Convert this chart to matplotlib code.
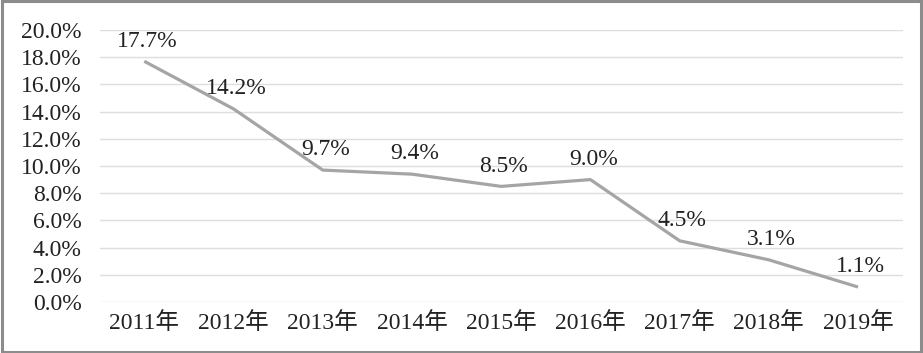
import matplotlib
matplotlib.use( 'Agg' )
import matplotlib.pyplot as plt
from matplotlib.patches import Rectangle
from matplotlib.ticker import FuncFormatter

plt.rcParams[ 'font.family' ] = [ 'Liberation Serif', 'Noto Sans CJK SC' ]

years  = [ '2011年', '2012年', '2013年', '2014年', '2015年', '2016年', '2017年', '2018年', '2019年' ]
values = [ 17.7, 14.2, 9.7, 9.4, 8.5, 9.0, 4.5, 3.1, 1.1 ]
yticks = [ 0, 2, 4, 6, 8, 10, 12, 14, 16, 18, 20 ]

fig = plt.figure( figsize = ( 9.23, 3.53 ), dpi = 100 )
ax = fig.add_axes( [ 0.108, 0.1445, 0.870, 0.7705 ] )

xs = range( len( years ) )
ax.plot( xs, values, color = '#A5A5A5', linewidth = 2.3, solid_capstyle = 'butt', zorder = 3 )

# データラベル
for x, v in zip( xs, values ):
    ax.annotate( f'{v:.1f}%', ( x, v ), xytext = ( 2, 7 ), textcoords = 'offset points',
                 ha = 'center', va = 'bottom', fontsize = 17, color = '#222222' )

ax.set_xlim( -0.5, len( years ) - 0.5 )
ax.set_ylim( 0, 20 )
ax.set_yticks( yticks )
ax.yaxis.set_major_formatter( FuncFormatter( lambda v, _: f'{v:.1f}%' ) )
ax.set_xticks( list( xs ) )
ax.set_xticklabels( years )
ax.tick_params( axis = 'both', length = 0, labelsize = 17, labelcolor = '#222222' )
ax.tick_params( axis = 'x', pad = 7 )
ax.tick_params( axis = 'y', pad = 13 )
ax.grid( axis = 'y', color = '#DEDEDE', linewidth = 1.0 )
ax.set_axisbelow( True )
for s in ax.spines.values():
    s.set_visible( False )

# 外枠
fig.patches.append( Rectangle( ( 0.002, 0.003 ), 0.996, 0.994, transform = fig.transFigure,
                               fill = False, edgecolor = '#8C8C8C', linewidth = 2.2 ) )

fig.savefig( 'out.png', dpi = 100 )
